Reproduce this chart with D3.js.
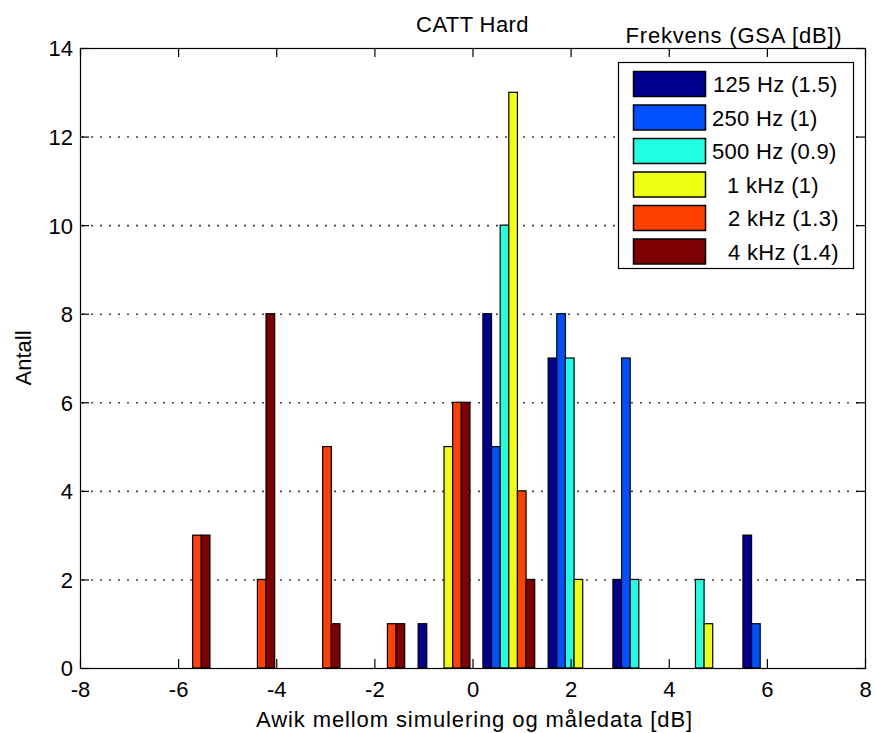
<!DOCTYPE html>
<html>
<head>
<meta charset="utf-8">
<script src="https://cdn.jsdelivr.net/npm/d3@7"></script>
<style>
  html, body { margin: 0; padding: 0; background: #fff; }
  svg { display: block; }
  text { font-family: "Liberation Sans", Arial, Helvetica, sans-serif; fill: #000; }
</style>
</head>
<body>
<svg id="chart" width="875" height="733"></svg>
<script>
// ---- data ----
const binCenters = [-5.88, -4.56, -3.23, -1.91, -0.58, 0.74, 2.07, 3.39, 4.72, 6.04];
const seriesNames = ["125 Hz (1.5)", "250 Hz (1)", "500 Hz (0.9)", "1 kHz (1)", "2 kHz (1.3)", "4 kHz (1.4)"];
const seriesColors = ["#00008f", "#0050ff", "#20ffdf", "#efff10", "#ff4000", "#7f0000"];
const s125 = [0, 0, 0, 0, 1, 8, 7, 2, 0, 3];
const s250 = [0, 0, 0, 0, 0, 5, 8, 7, 0, 1];
const s500 = [0, 0, 0, 0, 0, 10, 7, 2, 2, 0];
const s1k  = [0, 0, 0, 0, 5, 13, 2, 0, 1, 0];
const s2k  = [3, 2, 5, 1, 6, 4, 0, 0, 0, 0];
const s4k  = [3, 8, 1, 1, 6, 2, 0, 0, 0, 0];
const xTicks = [-8, -6, -4, -2, 0, 2, 4, 6, 8];
const yTicks = [0, 2, 4, 6, 8, 10, 12, 14];
const titleText = "CATT Hard";
const xLabel = "Awik mellom simulering og måledata [dB]";
const yLabel = "Antall";
const legendTitle = "Frekvens (GSA [dB])";

const seriesValues = [s125, s250, s500, s1k, s2k, s4k];

// ---- layout ----
const L = 80, R = 865, T = 48, B = 668;
const svg = d3.select("#chart");
const x = d3.scaleLinear().domain([-8, 8]).range([L, R]);
const y = d3.scaleLinear().domain([0, 14]).range([B, T]);
const FS = 22;
const fmt = d => String(d);

// grid lines (dotted, horizontal)
svg.append("g").selectAll("line").data(yTicks.filter(d => d > 0 && d < 14)).join("line")
  .attr("x1", L).attr("x2", R)
  .attr("y1", d => y(d) + 0.5).attr("y2", d => y(d) + 0.5)
  .attr("stroke", "#444").attr("stroke-width", 1.6)
  .attr("stroke-dasharray", "2,7").attr("stroke-dashoffset", -2);

// bars
const binWidth = binCenters[1] - binCenters[0];
const groupW = 0.8 * binWidth;
const barW = groupW / seriesValues.length;
const bars = [];
seriesValues.forEach((vals, j) => {
  vals.forEach((v, i) => {
    if (v > 0) bars.push({ j, c: binCenters[i], v });
  });
});
svg.append("g").selectAll("rect").data(bars).join("rect")
  .attr("x", d => x(d.c - groupW / 2 + d.j * barW))
  .attr("width", d => x(d.c - groupW / 2 + (d.j + 1) * barW) - x(d.c - groupW / 2 + d.j * barW))
  .attr("y", d => y(d.v))
  .attr("height", d => y(0) - y(d.v))
  .attr("fill", d => seriesColors[d.j])
  .attr("stroke", "#000").attr("stroke-width", 1.2);

// axes (ticks inside, on all four sides)
const tk = 9;
const gB = svg.append("g").attr("transform", `translate(0,${B})`)
  .call(d3.axisBottom(x).tickValues(xTicks).tickSize(-tk).tickPadding(10).tickFormat(fmt));
const gT = svg.append("g").attr("transform", `translate(0,${T})`)
  .call(d3.axisTop(x).tickValues(xTicks).tickSize(-tk).tickFormat(""));
const gL = svg.append("g").attr("transform", `translate(${L},0)`)
  .call(d3.axisLeft(y).tickValues(yTicks).tickSize(-tk).tickPadding(7).tickFormat(fmt));
const gR = svg.append("g").attr("transform", `translate(${R},0)`)
  .call(d3.axisRight(y).tickValues(yTicks).tickSize(-tk).tickFormat(""));
[gB, gT, gL, gR].forEach(g => {
  g.select(".domain").remove();
  g.selectAll(".tick line").attr("stroke", "#000").attr("stroke-width", 1.2);
  g.selectAll("text").attr("font-size", FS).attr("font-family", "Liberation Sans, Arial, sans-serif").attr("fill", "#000");
});
gB.selectAll(".tick text").attr("dy", "0.85em");
gL.selectAll(".tick text").attr("dy", "0.36em");

// frame
svg.append("rect").attr("x", L + 0.5).attr("y", T + 0.5)
  .attr("width", R - L).attr("height", B - T)
  .attr("fill", "none").attr("stroke", "#000").attr("stroke-width", 1.2);

// title & labels
svg.append("text").attr("x", (L + R) / 2).attr("y", 32).attr("text-anchor", "middle")
  .attr("font-size", FS).attr("letter-spacing", 0.4).text(titleText);
svg.append("text").attr("x", (L + R) / 2 + 2).attr("y", 727).attr("text-anchor", "middle")
  .attr("font-size", FS).attr("letter-spacing", 0.9).text(xLabel);
svg.append("text").attr("transform", `translate(31,${(T + B) / 2}) rotate(-90)`)
  .attr("text-anchor", "middle").attr("font-size", FS).text(yLabel);

// legend
const lg = svg.append("g");
lg.append("text").attr("x", 734).attr("y", 43).attr("text-anchor", "middle")
  .attr("font-size", FS).attr("letter-spacing", 0.8).text(legendTitle);
lg.append("rect").attr("x", 618.5).attr("y", 62.5).attr("width", 235).attr("height", 206)
  .attr("fill", "#fff").attr("stroke", "#000").attr("stroke-width", 1.2);
const rowStep = 33.5;
const textX = [713, 712, 712, 727, 728, 728];
seriesNames.forEach((name, i) => {
  const cy = 84 + i * rowStep;
  lg.append("rect").attr("x", 633.5).attr("y", cy - 12.5).attr("width", 72).attr("height", 25)
    .attr("fill", seriesColors[i]).attr("stroke", "#000").attr("stroke-width", 1.5);
  lg.append("text").attr("x", textX[i]).attr("y", cy + 8).attr("font-size", FS)
    .attr("letter-spacing", 0.3).text(name);
});
</script>
</body>
</html>
